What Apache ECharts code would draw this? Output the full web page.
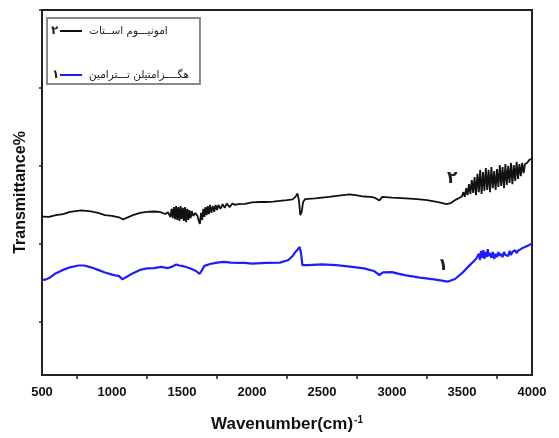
<!DOCTYPE html>
<html>
<head>
<meta charset="utf-8">
<title>FTIR</title>
<script src="https://cdn.jsdelivr.net/npm/echarts@6/dist/echarts.min.js"></script>
<style>
  html, body { margin: 0; padding: 0; background: #fff; }
  #chart { width: 559px; height: 438px; }
</style>
</head>
<body>
<div id="chart"></div>
<script>
// sample 2 (black) : wavenumber / transmittance
var wnBlack = [500, 550, 600, 650, 700, 780, 850, 900, 950, 1000, 1050, 1080, 1100, 1150, 1200, 1250, 1300, 1340, 1380,
  1400, 1410, 1418, 1426, 1434, 1442, 1450, 1458, 1466, 1474, 1482, 1490, 1498, 1506, 1514, 1522, 1530, 1538, 1546, 1554,
  1562, 1570, 1580, 1595, 1610, 1620, 1628, 1636, 1644, 1652, 1660, 1668, 1676, 1684, 1692, 1700, 1710, 1720, 1730, 1740,
  1750, 1760, 1775, 1790, 1805, 1820, 1840, 1860, 1880, 1900, 1950, 2000, 2050, 2100, 2150, 2200, 2250, 2290,
  2310, 2325, 2335, 2345, 2355, 2365, 2380, 2450, 2550, 2650, 2700, 2750, 2800, 2850, 2880, 2910, 2930, 3000, 3100, 3180,
  3250, 3320, 3390, 3420, 3450, 3480, 3500, 3510, 3520, 3530, 3540, 3550, 3560, 3570, 3580, 3590, 3600, 3610, 3620, 3630,
  3640, 3650, 3660, 3670, 3680, 3690, 3700, 3710, 3720, 3730, 3740, 3750, 3760, 3770, 3780, 3790, 3800, 3810, 3820, 3830,
  3840, 3850, 3860, 3870, 3880, 3890, 3900, 3910, 3920, 3930, 3940, 3950, 3965, 3980, 4000];
var tBlack = [43.4, 43.3, 43.8, 44.1, 44.7, 45.1, 44.8, 44.4, 43.8, 43.6, 43.2, 42.6, 43.0, 43.8, 44.4, 44.7, 44.8, 44.7, 44.1,
  44.6, 44.9, 43.3, 45.5, 43.0, 46.0, 42.7, 46.3, 42.5, 46.0, 42.2, 46.3, 42.7, 45.8, 42.2, 46.0, 41.9, 45.5, 42.5, 45.2,
  43.0, 44.9, 43.6, 44.4, 43.6, 42.2, 41.4, 44.4, 42.5, 45.5, 43.3, 46.0, 43.8, 46.3, 44.1, 46.6, 44.4, 46.3, 44.7, 46.6,
  45.2, 46.6, 45.5, 46.8, 45.8, 47.0, 46.0, 47.0, 46.6, 46.8, 46.9, 47.3, 47.4, 47.4, 47.5, 47.7, 47.9, 48.1,
  48.8, 49.7, 47.9, 43.8, 44.7, 47.4, 48.2, 48.4, 48.8, 49.3, 49.5, 49.2, 48.9, 48.8, 48.5, 47.8, 48.8, 48.6, 48.4, 48.2,
  47.9, 47.4, 46.8, 47.1, 47.9, 48.5, 49.0, 50.1, 48.8, 51.2, 49.3, 52.3, 49.6, 53.4, 49.9, 54.2, 49.3, 55.1, 50.1, 56.2,
  49.6, 55.6, 50.4, 56.7, 50.7, 56.2, 50.1, 57.0, 51.2, 55.9, 50.7, 56.4, 51.5, 57.5, 51.8, 57.0, 51.2, 57.8, 52.1, 57.3,
  52.6, 58.1, 52.3, 57.5, 53.2, 58.4, 53.7, 57.8, 54.5, 58.1, 55.3, 57.8, 58.1, 58.9, 59.3];

// sample 1 (blue)
var wnBlue = [500, 530, 560, 600, 650, 700, 760, 800, 850, 900, 950, 1000, 1050, 1075, 1100, 1150, 1200, 1250, 1300, 1350,
  1400, 1430, 1460, 1480, 1500, 1530, 1560, 1600, 1625, 1640, 1660, 1700, 1750, 1800, 1850, 1900, 1950, 2000, 2100, 2200,
  2260, 2290, 2310, 2330, 2340, 2350, 2360, 2400, 2500, 2600, 2700, 2800, 2870, 2910, 2935, 3000, 3050, 3100, 3200, 3300,
  3400, 3450, 3500, 3550, 3600, 3620, 3628, 3636, 3644, 3652, 3660, 3668, 3676, 3684, 3692, 3700, 3710, 3720, 3730, 3740,
  3750, 3760, 3770, 3780, 3790, 3800, 3810, 3820, 3830, 3840, 3850, 3860, 3870, 3880, 3890, 3900, 3910, 3920, 3950, 3980, 4000];
var tBlue = [26.0, 26.2, 26.8, 27.9, 28.8, 29.5, 30.0, 30.0, 29.5, 28.8, 28.1, 27.5, 27.1, 26.2, 26.8, 27.9, 28.8, 29.2, 29.3, 29.6,
  29.3, 29.7, 30.3, 30.0, 29.9, 29.6, 29.2, 28.5, 27.7, 28.5, 29.9, 30.4, 30.8, 31.0, 30.8, 30.7, 30.7, 30.5, 30.7, 30.8,
  31.5, 32.6, 33.7, 34.5, 35.1, 33.4, 30.1, 30.1, 30.3, 30.1, 29.7, 29.2, 28.5, 27.4, 28.1, 28.2, 27.7, 27.3, 26.7, 26.2,
  25.6, 26.3, 27.9, 29.9, 31.8, 33.2, 31.5, 34.0, 32.1, 34.2, 31.8, 33.7, 32.3, 34.5, 32.6, 33.4, 32.1, 33.7, 31.8, 33.2,
  32.3, 33.7, 32.6, 33.2, 32.3, 33.7, 32.9, 33.4, 32.6, 34.0, 32.9, 33.7, 33.2, 34.2, 33.4, 34.0, 33.7, 34.5, 35.1, 35.6, 36.0];

var yTicks = [14.5, 35.9, 57.3, 78.6, 100];
var nameBlack = 'امونیـــوم اســتات';
var nameBlue = 'هگــــزامتیلن تـــترامین';

function pairs(xs, ys) {
  return xs.map(function (x, i) { return [x, ys[i]] })
}

var chart = echarts.init(document.getElementById('chart'))
var boldFont = '"Liberation Sans", Arial, sans-serif'
var arFont = '"DejaVu Sans", sans-serif'

chart.setOption({
  animation: false,
  grid: {
    left: 42, right: 27, top: 10, bottom: 63,
    show: true, borderColor: '#222', borderWidth: 2
  },
  legend: {
    orient: 'vertical',
    left: 47, top: 18,
    padding: [6, 11, 2, 13],
    itemGap: 30,
    icon: 'rect',
    itemWidth: 22,
    itemHeight: 2,
    borderColor: '#888',
    borderWidth: 2,
    textStyle: { fontFamily: arFont, fontSize: 10.5, color: '#222', padding: [0, 0, 0, 2], lineHeight: 14 },
    data: [nameBlack, nameBlue]
  },
  graphic: [
    { type: 'text', left: 51, top: 25, style: { text: '۲', font: 'bold 12px ' + arFont, fill: '#222' } },
    { type: 'text', left: 52, top: 69, style: { text: '۱', font: 'bold 12px ' + arFont, fill: '#222' } }
  ],
  xAxis: {
    type: 'value',
    min: 500, max: 4000, interval: 500,
    name: '{b|Wavenumber(cm)}{s|-1}',
    nameLocation: 'middle',
    nameGap: 40,
    nameTextStyle: {
      rich: {
        b: { fontFamily: boldFont, fontWeight: 'bold', fontSize: 17, color: '#111' },
        s: { fontFamily: boldFont, fontWeight: 'bold', fontSize: 10, color: '#111', verticalAlign: 'top', padding: [0, 0, 8, 1] }
      }
    },
    axisLine: { lineStyle: { color: '#222', width: 2 } },
    axisTick: { show: false },
    minorTick: { show: true, splitNumber: 2, length: 4, lineStyle: { color: '#222', width: 1.5 } },
    axisLabel: {
      margin: 11, fontFamily: boldFont, fontWeight: 'bold', fontSize: 13, color: '#111',
      formatter: function (v) { return String(v) }
    },
    splitLine: { show: false },
    minorSplitLine: { show: false }
  },
  yAxis: {
    type: 'value',
    min: 0, max: 100,
    name: 'Transmittance%',
    nameLocation: 'middle',
    nameGap: 13,
    nameTextStyle: { fontFamily: boldFont, fontWeight: 'bold', fontSize: 16, color: '#111' },
    axisLine: { show: true, lineStyle: { color: '#222', width: 2 } },
    axisTick: { show: true, length: 3, customValues: yTicks, lineStyle: { color: '#222', width: 1.5 } },
    axisLabel: { show: false },
    splitLine: { show: false }
  },
  series: [
    {
      name: nameBlack,
      type: 'line',
      symbol: 'none',
      color: '#111',
      lineStyle: { width: 1.8, color: '#111' },
      data: pairs(wnBlack, tBlack),
      markPoint: {
        silent: true,
        symbol: 'circle', symbolSize: 0,
        label: { show: true, position: 'inside', color: '#222', fontFamily: arFont, fontWeight: 'bold', fontSize: 17 },
        data: [{ coord: [3430, 53.7], value: '۲', label: { formatter: '۲' } }]
      }
    },
    {
      name: nameBlue,
      type: 'line',
      symbol: 'none',
      color: '#1f1ff5',
      lineStyle: { width: 2.2, color: '#1f1ff5' },
      data: pairs(wnBlue, tBlue),
      markPoint: {
        silent: true,
        symbol: 'circle', symbolSize: 0,
        label: { show: true, position: 'inside', color: '#222', fontFamily: arFont, fontWeight: 'bold', fontSize: 17 },
        data: [{ coord: [3364, 30.1], value: '۱', label: { formatter: '۱' } }]
      }
    }
  ]
})
</script>
</body>
</html>
